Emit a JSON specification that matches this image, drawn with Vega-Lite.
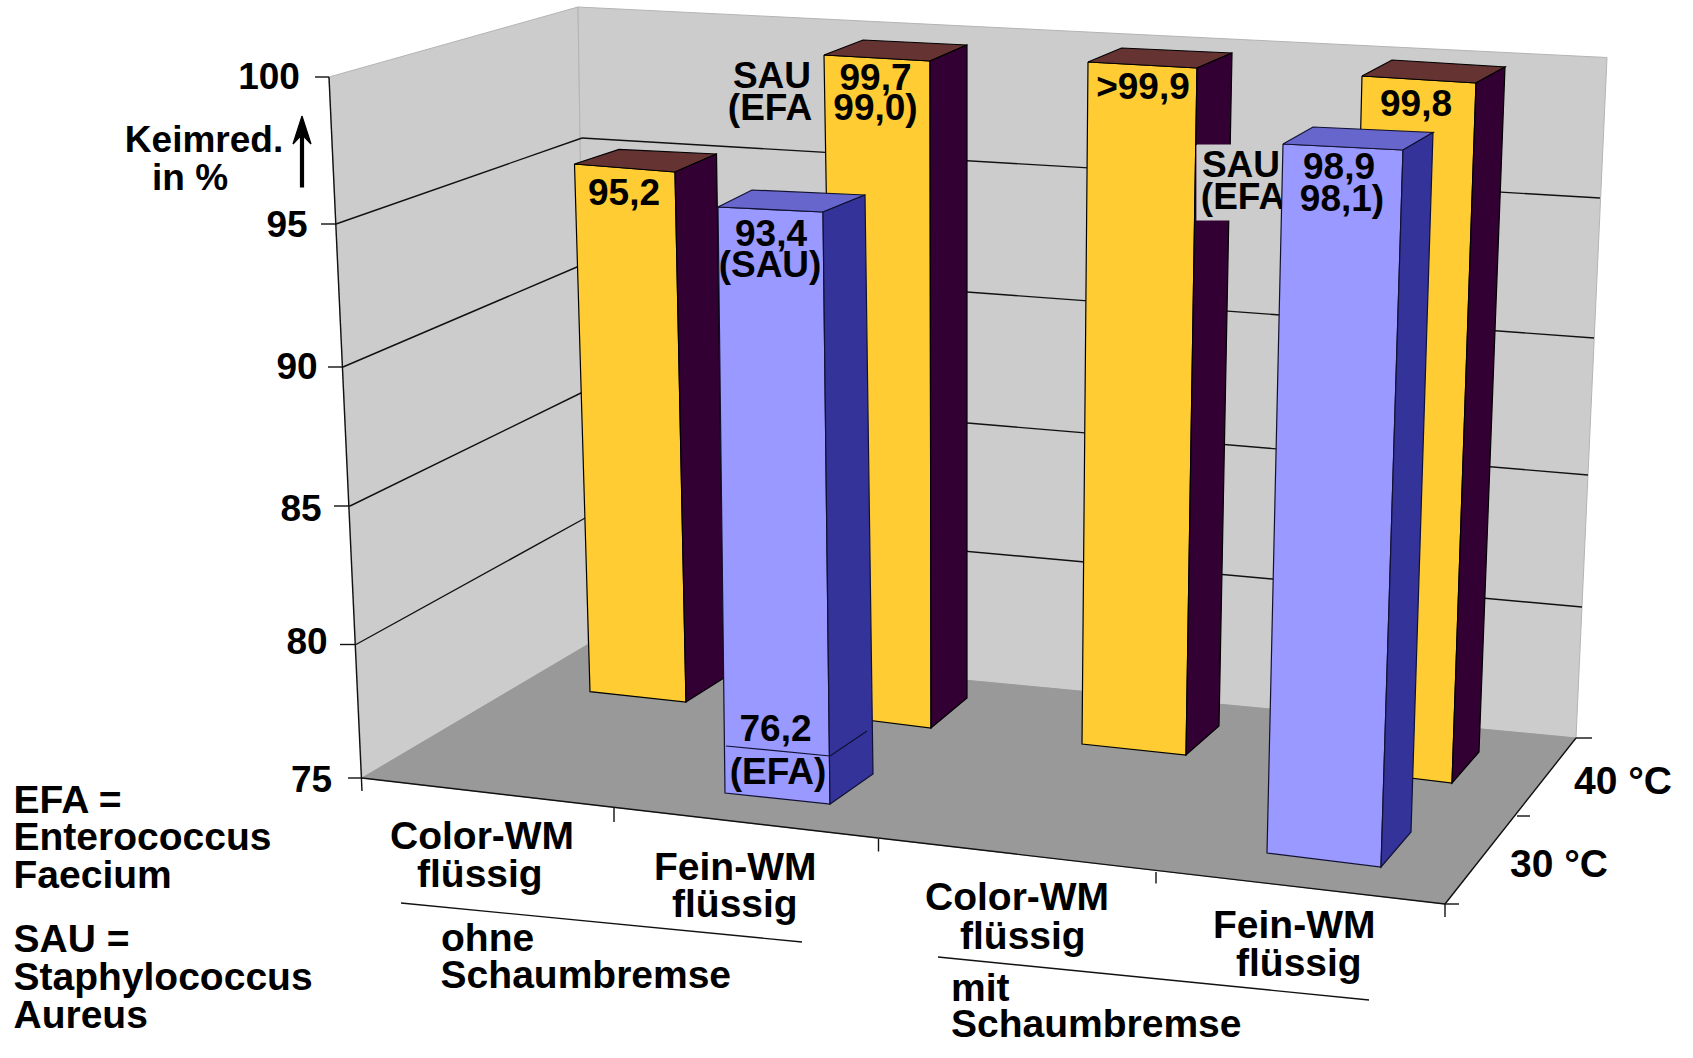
{"$schema":"https://vega.github.io/schema/vega-lite/v6.json","autosize":{"type":"fit","contains":"padding"},"width":1693,"height":1058,"padding":0,"background":"white","config":{"view":{"stroke":null},"axis":{"disable":true}},
"datasets":{
"walls":[
{"p":"left","part":"wall","i":0,"x":329,"y":77},{"p":"left","part":"wall","i":1,"x":578,"y":7},{"p":"left","part":"wall","i":2,"x":588,"y":644.5},{"p":"left","part":"wall","i":3,"x":362,"y":778},{"p":"left","part":"wall","i":4,"x":329,"y":77},
{"p":"back","part":"wall","i":0,"x":578,"y":7},{"p":"back","part":"wall","i":1,"x":1607,"y":57.5},{"p":"back","part":"wall","i":2,"x":1576,"y":738},{"p":"back","part":"wall","i":3,"x":588,"y":644.5},{"p":"back","part":"wall","i":4,"x":578,"y":7},
{"p":"floor","part":"floor","i":0,"x":362,"y":778},{"p":"floor","part":"floor","i":1,"x":588,"y":644.5},{"p":"floor","part":"floor","i":2,"x":1576,"y":738},{"p":"floor","part":"floor","i":3,"x":1445,"y":904},{"p":"floor","part":"floor","i":4,"x":362,"y":778}],
"grid":[
{"x":336,"y":224,"x2":582,"y2":138},{"x":582,"y":138,"x2":1600,"y2":198},
{"x":343,"y":367,"x2":584,"y2":264},{"x":584,"y":264,"x2":1594,"y2":338},
{"x":350,"y":506,"x2":585,"y2":391},{"x":585,"y":391,"x2":1588,"y2":475},
{"x":356,"y":644.5,"x2":587,"y2":517},{"x":587,"y":517,"x2":1582,"y2":607},
{"x":329,"y":77,"x2":362,"y2":791},{"x":315,"y":77,"x2":329,"y2":77},{"x":321,"y":224,"x2":336,"y2":224},{"x":328,"y":367,"x2":343,"y2":367},{"x":334,"y":506,"x2":350,"y2":506},{"x":340,"y":644.5,"x2":356,"y2":644.5},{"x":348,"y":778,"x2":362,"y2":778},
{"x":362,"y":778,"x2":1445,"y2":904},{"x":1445,"y":904,"x2":1576,"y2":738},
{"x":614,"y":808,"x2":614,"y2":822},{"x":878.5,"y":839,"x2":878.5,"y2":851.5},{"x":1156,"y":872,"x2":1156,"y2":883.5},{"x":1445,"y":904,"x2":1445,"y2":917},
{"x":1576,"y":738,"x2":1592,"y2":738},{"x":1517,"y":816,"x2":1530,"y2":816},{"x":1445,"y":904,"x2":1459,"y2":904},
{"x":401,"y":903,"x2":802,"y2":942},{"x":938,"y":957,"x2":1369,"y2":1000}],
"rear":[
{"p":"b1f","part":"yellowFront","i":0,"x":574.5,"y":164},{"p":"b1f","part":"yellowFront","i":1,"x":675,"y":172},{"p":"b1f","part":"yellowFront","i":2,"x":686,"y":702},{"p":"b1f","part":"yellowFront","i":3,"x":590,"y":691.6},{"p":"b1f","part":"yellowFront","i":4,"x":574.5,"y":164},
{"p":"b1t","part":"yellowTop","i":0,"x":574.5,"y":164},{"p":"b1t","part":"yellowTop","i":1,"x":619,"y":149.4},{"p":"b1t","part":"yellowTop","i":2,"x":716.5,"y":154},{"p":"b1t","part":"yellowTop","i":3,"x":675,"y":172},{"p":"b1t","part":"yellowTop","i":4,"x":574.5,"y":164},
{"p":"b1s","part":"yellowSide","i":0,"x":675,"y":172},{"p":"b1s","part":"yellowSide","i":1,"x":716.5,"y":154},{"p":"b1s","part":"yellowSide","i":2,"x":724,"y":678},{"p":"b1s","part":"yellowSide","i":3,"x":686,"y":702},{"p":"b1s","part":"yellowSide","i":4,"x":675,"y":172},
{"p":"b3f","part":"yellowFront","i":0,"x":824,"y":55},{"p":"b3f","part":"yellowFront","i":1,"x":930,"y":61},{"p":"b3f","part":"yellowFront","i":2,"x":931,"y":728},{"p":"b3f","part":"yellowFront","i":3,"x":835,"y":716},{"p":"b3f","part":"yellowFront","i":4,"x":824,"y":55},
{"p":"b3t","part":"yellowTop","i":0,"x":824,"y":55},{"p":"b3t","part":"yellowTop","i":1,"x":863,"y":40},{"p":"b3t","part":"yellowTop","i":2,"x":967,"y":45},{"p":"b3t","part":"yellowTop","i":3,"x":930,"y":61},{"p":"b3t","part":"yellowTop","i":4,"x":824,"y":55},
{"p":"b3s","part":"yellowSide","i":0,"x":930,"y":61},{"p":"b3s","part":"yellowSide","i":1,"x":967,"y":45},{"p":"b3s","part":"yellowSide","i":2,"x":967,"y":698},{"p":"b3s","part":"yellowSide","i":3,"x":931,"y":728},{"p":"b3s","part":"yellowSide","i":4,"x":930,"y":61},
{"p":"b4f","part":"yellowFront","i":0,"x":1088,"y":62},{"p":"b4f","part":"yellowFront","i":1,"x":1197,"y":68},{"p":"b4f","part":"yellowFront","i":2,"x":1186,"y":755},{"p":"b4f","part":"yellowFront","i":3,"x":1082,"y":744},{"p":"b4f","part":"yellowFront","i":4,"x":1088,"y":62},
{"p":"b4t","part":"yellowTop","i":0,"x":1088,"y":62},{"p":"b4t","part":"yellowTop","i":1,"x":1121.5,"y":48},{"p":"b4t","part":"yellowTop","i":2,"x":1232,"y":53},{"p":"b4t","part":"yellowTop","i":3,"x":1197,"y":68},{"p":"b4t","part":"yellowTop","i":4,"x":1088,"y":62},
{"p":"b4s","part":"yellowSide","i":0,"x":1197,"y":68},{"p":"b4s","part":"yellowSide","i":1,"x":1232,"y":53},{"p":"b4s","part":"yellowSide","i":2,"x":1219,"y":726},{"p":"b4s","part":"yellowSide","i":3,"x":1186,"y":755},{"p":"b4s","part":"yellowSide","i":4,"x":1197,"y":68},
{"p":"b5f","part":"yellowFront","i":0,"x":1362,"y":76},{"p":"b5f","part":"yellowFront","i":1,"x":1476,"y":83},{"p":"b5f","part":"yellowFront","i":2,"x":1452,"y":783},{"p":"b5f","part":"yellowFront","i":3,"x":1345,"y":770},{"p":"b5f","part":"yellowFront","i":4,"x":1362,"y":76},
{"p":"b5t","part":"yellowTop","i":0,"x":1362,"y":76},{"p":"b5t","part":"yellowTop","i":1,"x":1392,"y":60},{"p":"b5t","part":"yellowTop","i":2,"x":1505,"y":67},{"p":"b5t","part":"yellowTop","i":3,"x":1476,"y":83},{"p":"b5t","part":"yellowTop","i":4,"x":1362,"y":76},
{"p":"b5s","part":"yellowSide","i":0,"x":1476,"y":83},{"p":"b5s","part":"yellowSide","i":1,"x":1505,"y":67},{"p":"b5s","part":"yellowSide","i":2,"x":1479,"y":752},{"p":"b5s","part":"yellowSide","i":3,"x":1452,"y":783},{"p":"b5s","part":"yellowSide","i":4,"x":1476,"y":83},
{"p":"box","part":"box","i":0,"x":1197,"y":145},{"p":"box","part":"box","i":1,"x":1290,"y":145},{"p":"box","part":"box","i":2,"x":1290,"y":220},{"p":"box","part":"box","i":3,"x":1197,"y":220},{"p":"box","part":"box","i":4,"x":1197,"y":145},
{"p":"arrow","part":"arrow","i":0,"x":302,"y":116},{"p":"arrow","part":"arrow","i":1,"x":311,"y":144},{"p":"arrow","part":"arrow","i":2,"x":303.5,"y":136},{"p":"arrow","part":"arrow","i":3,"x":303.5,"y":187},{"p":"arrow","part":"arrow","i":4,"x":300.5,"y":187},{"p":"arrow","part":"arrow","i":5,"x":300.5,"y":136},{"p":"arrow","part":"arrow","i":6,"x":293,"y":144},{"p":"arrow","part":"arrow","i":7,"x":302,"y":116}],
"front":[
{"p":"b2f","part":"blueFront","i":0,"x":718,"y":207},{"p":"b2f","part":"blueFront","i":1,"x":823,"y":212},{"p":"b2f","part":"blueFront","i":2,"x":830,"y":804},{"p":"b2f","part":"blueFront","i":3,"x":725,"y":793},{"p":"b2f","part":"blueFront","i":4,"x":718,"y":207},
{"p":"b2t","part":"blueTop","i":0,"x":718,"y":207},{"p":"b2t","part":"blueTop","i":1,"x":752,"y":190},{"p":"b2t","part":"blueTop","i":2,"x":865,"y":195},{"p":"b2t","part":"blueTop","i":3,"x":823,"y":212},{"p":"b2t","part":"blueTop","i":4,"x":718,"y":207},
{"p":"b2s","part":"blueSide","i":0,"x":823,"y":212},{"p":"b2s","part":"blueSide","i":1,"x":865,"y":195},{"p":"b2s","part":"blueSide","i":2,"x":873,"y":774},{"p":"b2s","part":"blueSide","i":3,"x":830,"y":804},{"p":"b2s","part":"blueSide","i":4,"x":823,"y":212},
{"p":"b6f","part":"blueFront","i":0,"x":1283,"y":144},{"p":"b6f","part":"blueFront","i":1,"x":1403,"y":150},{"p":"b6f","part":"blueFront","i":2,"x":1381,"y":867},{"p":"b6f","part":"blueFront","i":3,"x":1267,"y":853},{"p":"b6f","part":"blueFront","i":4,"x":1283,"y":144},
{"p":"b6t","part":"blueTop","i":0,"x":1283,"y":144},{"p":"b6t","part":"blueTop","i":1,"x":1313,"y":127},{"p":"b6t","part":"blueTop","i":2,"x":1433,"y":132.5},{"p":"b6t","part":"blueTop","i":3,"x":1403,"y":150},{"p":"b6t","part":"blueTop","i":4,"x":1283,"y":144},
{"p":"b6s","part":"blueSide","i":0,"x":1403,"y":150},{"p":"b6s","part":"blueSide","i":1,"x":1433,"y":132.5},{"p":"b6s","part":"blueSide","i":2,"x":1411,"y":832},{"p":"b6s","part":"blueSide","i":3,"x":1381,"y":867},{"p":"b6s","part":"blueSide","i":4,"x":1403,"y":150}],
"inner":[{"x":726,"y":746,"x2":830,"y2":756},{"x":830,"y":756,"x2":867,"y2":731}],
"hiddenText":[{"x":1241,"y":177,"t":"SAU"},{"x":1243,"y":209,"t":"(EFA"}],
"centerText":[
{"x":269,"y":89,"t":"100"},{"x":287,"y":236.5,"t":"95"},{"x":297,"y":379,"t":"90"},{"x":301,"y":520.5,"t":"85"},{"x":307,"y":654,"t":"80"},{"x":311.5,"y":791.5,"t":"75"},
{"x":204,"y":152,"t":"Keimred."},{"x":190,"y":190,"t":"in %"},
{"x":772,"y":88,"t":"SAU"},{"x":770,"y":120,"t":"(EFA"},
{"x":624,"y":205,"t":"95,2"},{"x":771,"y":246,"t":"93,4"},{"x":770,"y":277,"t":"(SAU)"},
{"x":875.5,"y":90,"t":"99,7"},{"x":875.5,"y":120,"t":"99,0)"},{"x":1143,"y":99,"t":">99,9"},{"x":1416,"y":116,"t":"99,8"},
{"x":1339,"y":179,"t":"98,9"},{"x":1342,"y":211,"t":"98,1)"},{"x":775.5,"y":741,"t":"76,2"},{"x":778,"y":784,"t":"(EFA)"}],
"leftText":[
{"x":13.5,"y":813,"t":"EFA ="},{"x":13.5,"y":850,"t":"Enterococcus"},{"x":13.5,"y":888,"t":"Faecium"},{"x":13.5,"y":952,"t":"SAU ="},{"x":13.5,"y":990,"t":"Staphylococcus"},{"x":13.5,"y":1028,"t":"Aureus"},
{"x":390,"y":848.5,"t":"Color-WM"},{"x":417,"y":887,"t":"flüssig"},{"x":654,"y":880,"t":"Fein-WM"},{"x":672,"y":917,"t":"flüssig"},{"x":441,"y":950.5,"t":"ohne"},{"x":440.6,"y":988,"t":"Schaumbremse"},
{"x":925,"y":910,"t":"Color-WM"},{"x":960,"y":948.5,"t":"flüssig"},{"x":1213,"y":938,"t":"Fein-WM"},{"x":1236,"y":976,"t":"flüssig"},{"x":951,"y":1001,"t":"mit"},{"x":951,"y":1037,"t":"Schaumbremse"},
{"x":1574,"y":794,"t":"40 °C"},{"x":1510,"y":877,"t":"30 °C"}]
},
"encoding":{"x":{"field":"x","type":"quantitative","scale":{"domain":[0,1693],"nice":false,"zero":false},"axis":null},"y":{"field":"y","type":"quantitative","scale":{"domain":[1058,0],"nice":false,"zero":false},"axis":null}},
"layer":[
{"data":{"name":"walls"},"mark":{"type":"line","strokeWidth":1,"interpolate":"linear"},"encoding":{"detail":{"field":"p"},"order":{"field":"i","type":"quantitative"},"fill":{"field":"part","type":"nominal","scale":{"domain":["wall","floor"],"range":["#cccccc","#999999"]},"legend":null},"stroke":{"field":"part","type":"nominal","scale":{"domain":["wall","floor"],"range":["#b4b4b4","#999999"]},"legend":null}}},
{"data":{"name":"grid"},"mark":{"type":"rule","color":"#111111","strokeWidth":1.4},"encoding":{"x2":{"field":"x2"},"y2":{"field":"y2"}}},
{"data":{"name":"rear"},"mark":{"type":"line","strokeWidth":1.2,"interpolate":"linear"},"encoding":{"detail":{"field":"p"},"order":{"field":"i","type":"quantitative"},"fill":{"field":"part","type":"nominal","scale":{"domain":["yellowFront","yellowTop","yellowSide","box","arrow"],"range":["#ffcc33","#663333","#330033","#cccccc","#000000"]},"legend":null},"stroke":{"field":"part","type":"nominal","scale":{"domain":["yellowFront","yellowTop","yellowSide","box","arrow"],"range":["#000000","#000000","#000000","#cccccc","#000000"]},"legend":null}}},
{"data":{"name":"hiddenText"},"mark":{"type":"text","font":"Liberation Sans","fontWeight":"bold","fontSize":37,"align":"center","baseline":"alphabetic","color":"#000000"},"encoding":{"text":{"field":"t"}}},
{"data":{"name":"front"},"mark":{"type":"line","strokeWidth":1.2,"interpolate":"linear"},"encoding":{"detail":{"field":"p"},"order":{"field":"i","type":"quantitative"},"fill":{"field":"part","type":"nominal","scale":{"domain":["blueFront","blueTop","blueSide"],"range":["#9999ff","#6666cc","#333399"]},"legend":null},"stroke":{"value":"#111133"}}},
{"data":{"name":"inner"},"mark":{"type":"rule","color":"#111133","strokeWidth":1.2},"encoding":{"x2":{"field":"x2"},"y2":{"field":"y2"}}},
{"data":{"name":"centerText"},"mark":{"type":"text","font":"Liberation Sans","fontWeight":"bold","fontSize":37,"align":"center","baseline":"alphabetic","color":"#000000"},"encoding":{"text":{"field":"t"}}},
{"data":{"name":"leftText"},"mark":{"type":"text","font":"Liberation Sans","fontWeight":"bold","fontSize":39,"align":"left","baseline":"alphabetic","color":"#000000"},"encoding":{"text":{"field":"t"}}}
],
"resolve":{"scale":{"fill":"independent","stroke":"independent"}}
}
